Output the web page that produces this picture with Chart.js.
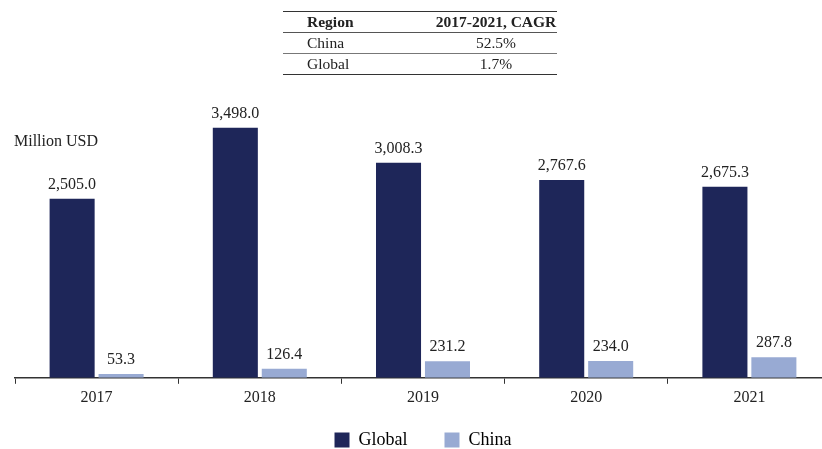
<!DOCTYPE html>
<html>
<head>
<meta charset="utf-8">
<script src="https://cdn.jsdelivr.net/npm/chart.js@4.4.1/dist/chart.umd.min.js"></script>
<style>
  html, body { margin: 0; padding: 0; background: #fff; overflow: hidden; }
  body { width: 822px; height: 449px; position: relative; font-family: "Liberation Serif", "Times New Roman", serif; color: #222; }
  #wrap { position: absolute; left: 0; top: 0; width: 840px; height: 449px; }
  #unit { position: absolute; left: 14px; top: 131px; font-size: 16px; line-height: 20px; }
  table.cagr { position: absolute; left: 283px; top: 11px; border-collapse: collapse; font-size: 15.5px; white-space: nowrap; }
  table.cagr td, table.cagr th { padding: 0; height: 20px; line-height: 20px; }
  table.cagr th { font-weight: bold; border-top: 1.5px solid #333; border-bottom: 1px solid #555; }
  table.cagr td { border-bottom: 1px solid #777; }
  table.cagr tr:last-child td { border-bottom: 1.5px solid #333; }
  table.cagr .c1 { width: 128px; padding-left: 24px; text-align: left; }
  table.cagr .c2 { width: 122px; text-align: center; }
</style>
</head>
<body>
<div id="wrap"><canvas id="chart" width="840" height="449"></canvas></div>
<table class="cagr">
  <tr><th class="c1">Region</th><th class="c2">2017-2021, CAGR</th></tr>
  <tr><td class="c1">China</td><td class="c2">52.5%</td></tr>
  <tr><td class="c1">Global</td><td class="c2">1.7%</td></tr>
</table>
<div id="unit">Million USD</div>
<script>
// categories and series
const years = ["2017", "2018", "2019", "2020", "2021"];
const globalValues = [2505.0, 3498.0, 3008.3, 2767.6, 2675.3];
const chinaValues = [53.3, 126.4, 231.2, 234.0, 287.8];

const navy = "#1e2659";
const lightBlue = "#98aad3";
const serif = "'Liberation Serif', 'Times New Roman', serif";

Chart.defaults.font.family = serif;
Chart.defaults.color = "#222";

const valueLabels = {
  id: "valueLabels",
  afterDatasetsDraw(chart) {
    const { ctx } = chart;
    ctx.save();
    ctx.font = "16px " + serif;
    ctx.fillStyle = "#222";
    ctx.textAlign = "center";
    ctx.textBaseline = "bottom";
    chart.data.datasets.forEach((ds, di) => {
      chart.getDatasetMeta(di).data.forEach((bar, i) => {
        const label = ds.data[i].toLocaleString("en-US", { minimumFractionDigits: 1, maximumFractionDigits: 1 });
        ctx.fillText(label, bar.x, bar.y - 6);
      });
    });
    ctx.restore();
  }
};

new Chart(document.getElementById("chart"), {
  type: "bar",
  data: {
    labels: years,
    datasets: [
      { label: "Global", data: globalValues, backgroundColor: navy },
      { label: "China", data: chinaValues, backgroundColor: lightBlue }
    ]
  },
  plugins: [valueLabels],
  options: {
    responsive: false,
    animation: false,
    datasets: { bar: { categoryPercentage: 0.6, barPercentage: 0.92 } },
    layout: { padding: { top: 92, left: 15, right: 9, bottom: -10 } },
    plugins: {
      tooltip: { enabled: false },
      legend: {
        position: "bottom",
        labels: {
          boxWidth: 15, boxHeight: 15, padding: 10,
          font: { size: 18, family: serif }, color: "#222",
          generateLabels(chart) {
            // pad all but the last label so the items sit as far apart as in the reference
            return chart.data.datasets.map((ds, i) => ({
              text: i < chart.data.datasets.length - 1 ? ds.label + "      " : ds.label,
              fillStyle: ds.backgroundColor,
              strokeStyle: ds.backgroundColor,
              lineWidth: 0,
              datasetIndex: i
            }));
          }
        }
      }
    },
    scales: {
      x: {
        offset: true,
        afterFit(scale) { scale.height += 10; },
        grid: { offset: true, drawOnChartArea: false, drawTicks: true, tickLength: 6, color: "#333", lineWidth: 1 },
        border: { display: true, color: "#333", width: 1.5 },
        ticks: { font: { size: 16, family: serif }, color: "#222", padding: 4 }
      },
      y: {
        display: false,
        min: 0,
        max: 4000
      }
    }
  }
});
</script>
</body>
</html>
